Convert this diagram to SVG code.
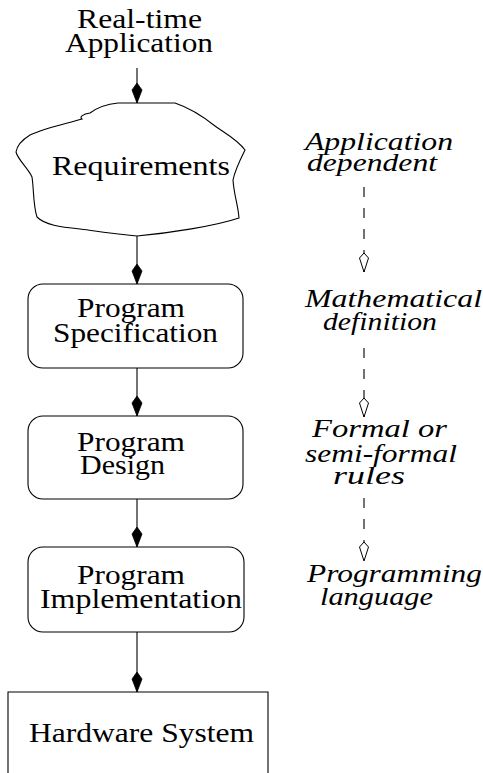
<svg xmlns="http://www.w3.org/2000/svg" width="483" height="773" viewBox="0 0 483 773">
<style>
.shape{fill:#fff;stroke:#000;stroke-width:1.1}
.conn{stroke:#000;stroke-width:1.1;fill:none}
.dash{stroke:#000;stroke-width:1.1;fill:none;stroke-dasharray:10 11}
</style>
<defs>
<marker id="fk" markerUnits="userSpaceOnUse" markerWidth="24" markerHeight="14" viewBox="-21 -7 24 14" refX="0" refY="0" orient="auto">
<path d="M0,0 L-13,-5 L-20,0 L-13,5 Z" fill="#000" stroke="#000" stroke-width="0.8"/>
</marker>
<marker id="ok" markerUnits="userSpaceOnUse" markerWidth="24" markerHeight="14" viewBox="-21 -7 24 14" refX="0" refY="0" orient="auto">
<path d="M0,0 L-14,-4.5 L-19,0 L-14,4.5 Z" fill="#fff" stroke="#000" stroke-width="1"/>
</marker>
</defs>
<g id="connectors">
<line class="conn" x1="137" y1="68" x2="137" y2="103" marker-end="url(#fk)"/>
<line class="conn" x1="137" y1="236" x2="137" y2="284" marker-end="url(#fk)"/>
<line class="conn" x1="137" y1="368" x2="137" y2="416" marker-end="url(#fk)"/>
<line class="conn" x1="137" y1="499" x2="137" y2="547" marker-end="url(#fk)"/>
<line class="conn" x1="137" y1="632" x2="137" y2="692" marker-end="url(#fk)"/>
<line class="dash" x1="364" y1="187" x2="364" y2="272" marker-end="url(#ok)"/>
<line class="dash" x1="364" y1="348" x2="364" y2="417" marker-end="url(#ok)"/>
<line class="dash" x1="364" y1="498" x2="364" y2="561" marker-end="url(#ok)"/>
</g>
<g font-family="Liberation Serif" font-size="27" fill="#000">
<g id="realtime">
<text x="77" y="28" textLength="125" lengthAdjust="spacingAndGlyphs">Real-time</text>
<text x="65" y="52" textLength="148" lengthAdjust="spacingAndGlyphs">Application</text>
</g>
<g id="requirements">
<path class="shape" d="M90,113 C98,107 108,104 118,103 L175,103 C190,108 205,118 215,126 C225,133 238,140 245,150 C240,160 235,170 233,180 C234,195 238,205 239,218 C215,226 170,233 137,236 C115,234 95,231 80,229 C60,227 45,225 37,217 C33,205 34,190 32,177 C28,168 18,160 16,152 C17,145 22,140 30,135 C45,128 65,124 82,119 C79,117 83,114 90,113 Z"/>
<text x="52" y="175" textLength="178" lengthAdjust="spacingAndGlyphs">Requirements</text>
</g>
<g id="spec">
<rect class="shape" x="28" y="284" width="215" height="84" rx="15"/>
<text x="77" y="317" textLength="108" lengthAdjust="spacingAndGlyphs">Program</text>
<text x="53" y="342" textLength="165" lengthAdjust="spacingAndGlyphs">Specification</text>
</g>
<g id="design">
<rect class="shape" x="28" y="416" width="215" height="83" rx="15"/>
<text x="77" y="451" textLength="108" lengthAdjust="spacingAndGlyphs">Program</text>
<text x="80" y="474" textLength="85" lengthAdjust="spacingAndGlyphs">Design</text>
</g>
<g id="impl">
<rect class="shape" x="28" y="547" width="216" height="85" rx="15"/>
<text x="77" y="584" textLength="108" lengthAdjust="spacingAndGlyphs">Program</text>
<text x="40" y="608" textLength="202" lengthAdjust="spacingAndGlyphs">Implementation</text>
</g>
<g id="hardware">
<path class="shape" d="M8,775 L8,692 L268,692 L268,775"/>
<text x="29" y="742" textLength="225" lengthAdjust="spacingAndGlyphs">Hardware System</text>
</g>
</g>
<g font-family="Liberation Serif" font-size="26" font-style="italic" fill="#000">
<g id="label-app">
<text x="305" y="150" textLength="148" lengthAdjust="spacingAndGlyphs">Application</text>
<text x="307" y="171" textLength="130" lengthAdjust="spacingAndGlyphs">dependent</text>
</g>
<g id="label-math">
<text x="305" y="307" textLength="177" lengthAdjust="spacingAndGlyphs">Mathematical</text>
<text x="323" y="330" textLength="114" lengthAdjust="spacingAndGlyphs">definition</text>
</g>
<g id="label-formal">
<text x="312" y="437" textLength="135" lengthAdjust="spacingAndGlyphs">Formal or</text>
<text x="305" y="462" textLength="152" lengthAdjust="spacingAndGlyphs">semi-formal</text>
<text x="333" y="484" textLength="72" lengthAdjust="spacingAndGlyphs">rules</text>
</g>
<g id="label-prog">
<text x="307" y="582" textLength="175" lengthAdjust="spacingAndGlyphs">Programming</text>
<text x="320" y="605" textLength="113" lengthAdjust="spacingAndGlyphs">language</text>
</g>
</g>
</svg>
